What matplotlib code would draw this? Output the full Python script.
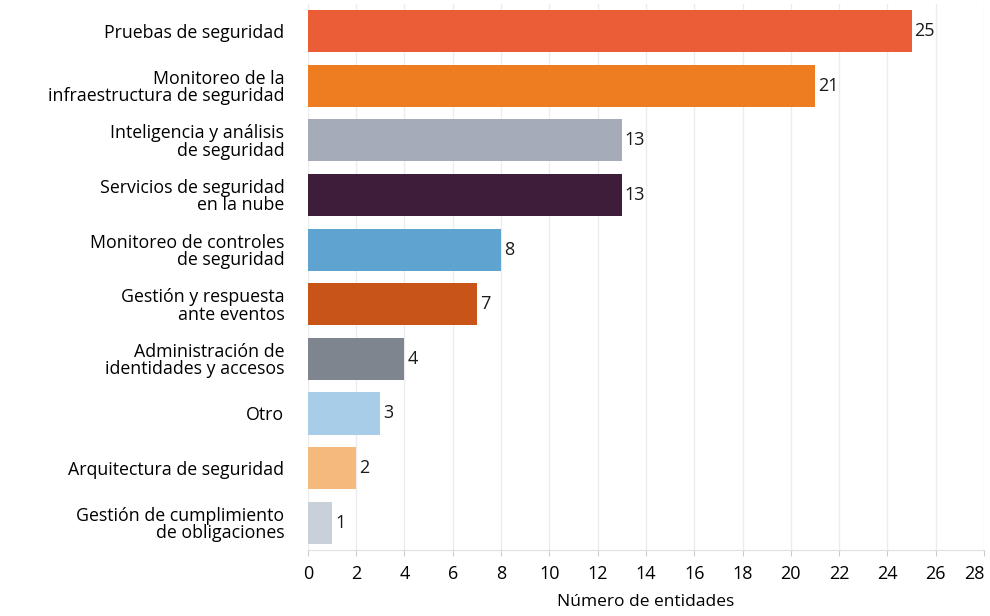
import numpy as np
import matplotlib.pyplot as plt

# datos
categorias = [
    "Pruebas de seguridad",
    "Monitoreo de la\ninfraestructura de seguridad",
    "Inteligencia y análisis\nde seguridad",
    "Servicios de seguridad\nen la nube",
    "Monitoreo de controles\nde seguridad",
    "Gestión y respuesta\nante eventos",
    "Administración de\nidentidades y accesos",
    "Otro",
    "Arquitectura de seguridad",
    "Gestión de cumplimiento\nde obligaciones",
]
valores = [25, 21, 13, 13, 8, 7, 4, 3, 2, 1]
colores = ["#EA5D36", "#EE7D22", "#A5ABB8", "#3D1D3A", "#5FA3D0",
           "#C85418", "#7E858F", "#A7CDE9", "#F6B97C", "#C8D0DA"]
ticks_x = list(range(0, 29, 2))

plt.rcParams['font.family'] = ['Open Sans', 'DejaVu Sans']

fig = plt.figure(figsize=(9.9, 6.16), dpi=100)
ax = fig.add_axes([0.311, 0.107, 0.683, 0.887])

y = np.arange(len(categorias))
ax.barh(y, valores, height=0.77, color=colores, zorder=3)

# etiquetas de valor
for yi, v in zip(y, valores):
    ax.text(v + 0.12, yi, str(v), va='center', ha='left', fontsize=13, color='#1a1a1a')

ax.set_xlim(0, 28)
ax.set_ylim(len(categorias) - 0.5, -0.5)
ax.set_yticks(y)
ax.set_yticklabels(categorias, fontsize=12.8, linespacing=0.95)
ax.tick_params(axis='y', length=0, pad=17)

ax.set_xticks(ticks_x)
ax.set_xticklabels([str(t) for t in ticks_x], fontsize=13)
ax.tick_params(axis='x', length=4, color='#cccccc', pad=7)
ax.get_xticklabels()[-1].set_horizontalalignment('right')

ax.grid(axis='x', color='#ececec', linewidth=1, zorder=0)
for s in ['top', 'right', 'left']:
    ax.spines[s].set_visible(False)
ax.spines['bottom'].set_color('#e0e0e0')

ax.set_xlabel('Número de entidades', fontsize=12.5, labelpad=8)

fig.savefig('out.png', dpi=100)
